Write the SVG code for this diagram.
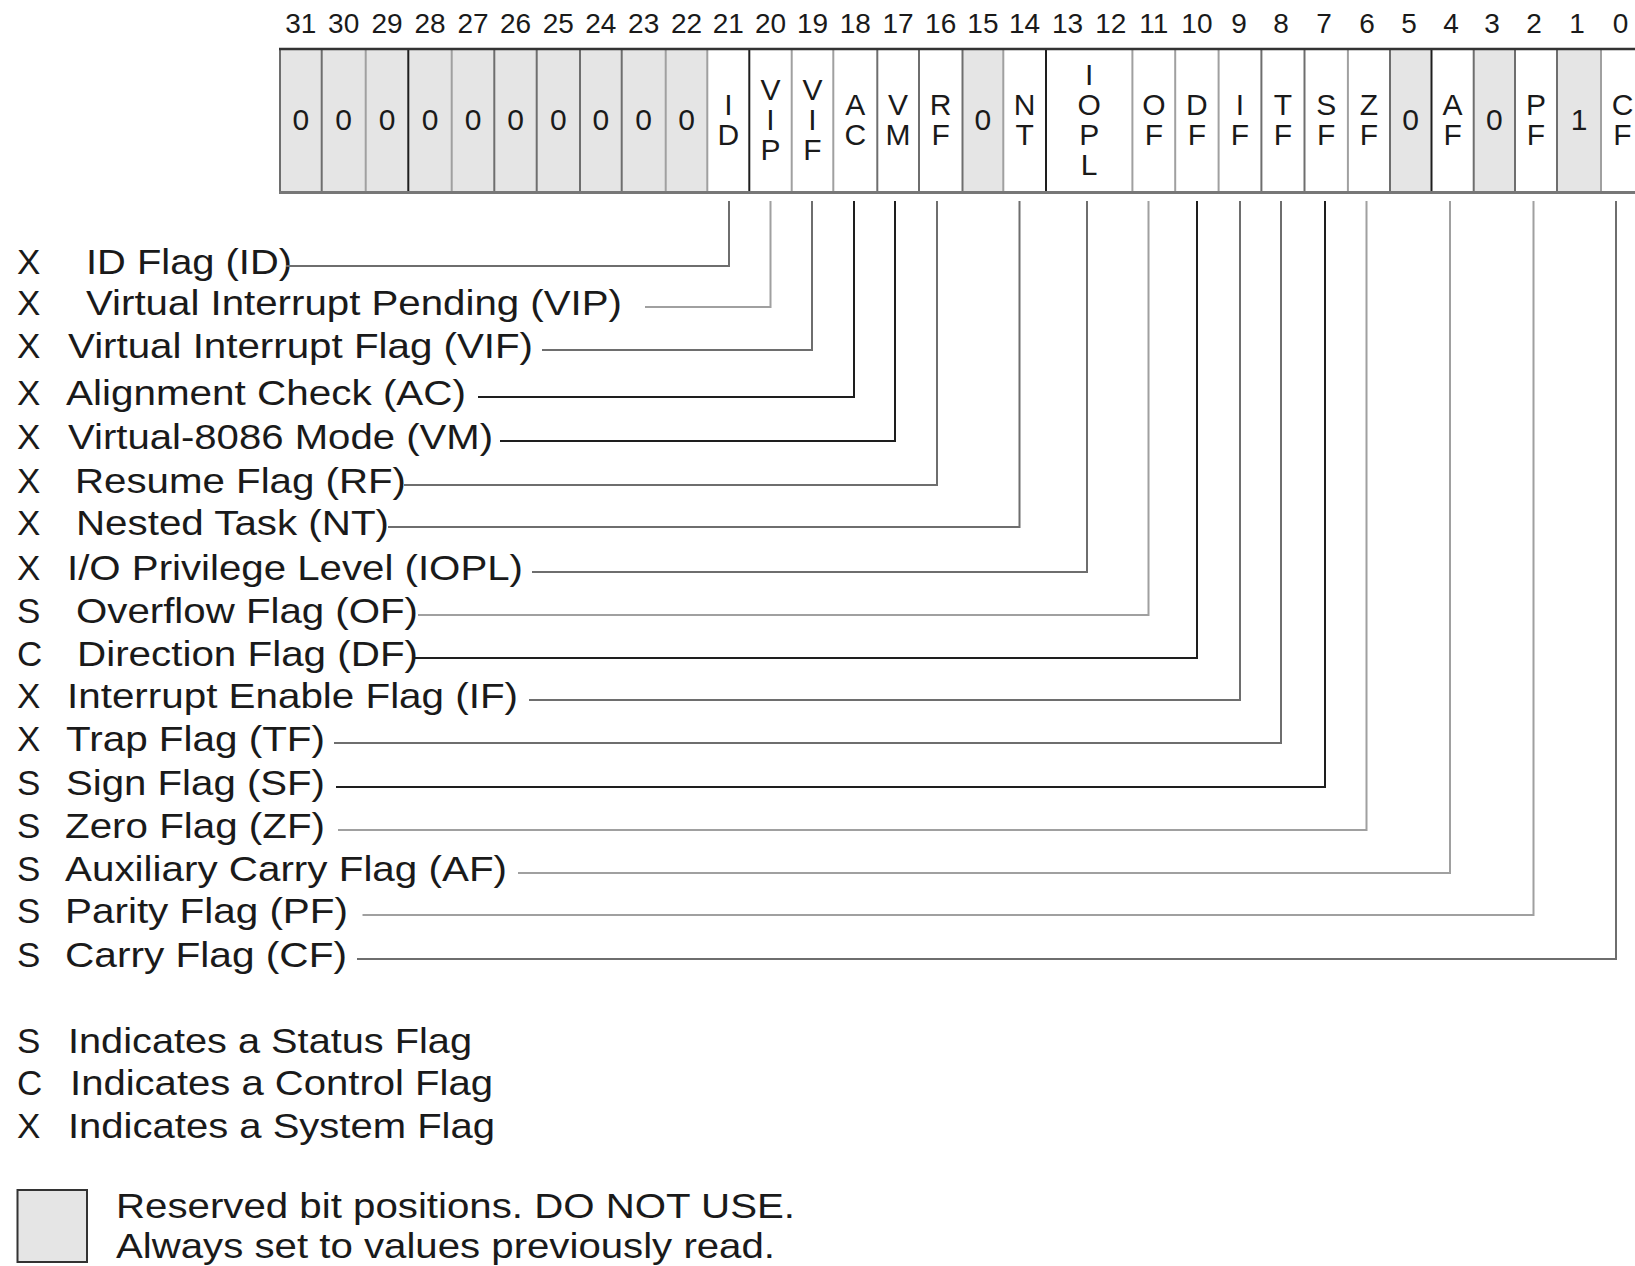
<svg xmlns="http://www.w3.org/2000/svg" width="1635" height="1266" viewBox="0 0 1635 1266">
<style>
text{font-family:"Liberation Sans",Arial,Helvetica,sans-serif;fill:#1a1a1a}
.num{font-size:28px;text-anchor:middle}
.cl{font-size:30px;text-anchor:middle}
.lb{font-size:35px}
.res{fill:#e5e5e5}
.wht{fill:#ffffff}
.dv{stroke-width:2;fill:none}
.c{fill:none;stroke-width:2}
.k{stroke:#1e1e1e}
.g{stroke:#6e6e6e}
.l{stroke:#a0a0a0}
</style>
<rect width="1635" height="1266" fill="#ffffff"/>
<g id="bit-numbers">
<text class="num" x="300.8" y="33">31</text>
<text class="num" x="343.7" y="33">30</text>
<text class="num" x="387" y="33">29</text>
<text class="num" x="430" y="33">28</text>
<text class="num" x="473" y="33">27</text>
<text class="num" x="515.5" y="33">26</text>
<text class="num" x="558.3" y="33">25</text>
<text class="num" x="600.8" y="33">24</text>
<text class="num" x="643.7" y="33">23</text>
<text class="num" x="686.5" y="33">22</text>
<text class="num" x="728.3" y="33">21</text>
<text class="num" x="770.5" y="33">20</text>
<text class="num" x="812.5" y="33">19</text>
<text class="num" x="855.3" y="33">18</text>
<text class="num" x="898.1" y="33">17</text>
<text class="num" x="940.7" y="33">16</text>
<text class="num" x="982.9" y="33">15</text>
<text class="num" x="1024.6" y="33">14</text>
<text class="num" x="1067.5" y="33">13</text>
<text class="num" x="1110.8" y="33">12</text>
<text class="num" x="1153.8" y="33">11</text>
<text class="num" x="1196.9" y="33">10</text>
<text class="num" x="1239" y="33">9</text>
<text class="num" x="1281" y="33">8</text>
<text class="num" x="1324" y="33">7</text>
<text class="num" x="1367" y="33">6</text>
<text class="num" x="1409" y="33">5</text>
<text class="num" x="1451" y="33">4</text>
<text class="num" x="1492" y="33">3</text>
<text class="num" x="1534" y="33">2</text>
<text class="num" x="1577" y="33">1</text>
<text class="num" x="1620.5" y="33">0</text>
</g>
<g id="register">
<g id="bit31"><rect class="res" x="280" y="49" width="41.7" height="144"/><text class="cl" x="300.8" y="129.5">0</text></g>
<g id="bit30"><rect class="res" x="321.7" y="49" width="44" height="144"/><text class="cl" x="343.7" y="129.5">0</text></g>
<g id="bit29"><rect class="res" x="365.7" y="49" width="42.6" height="144"/><text class="cl" x="387" y="129.5">0</text></g>
<g id="bit28"><rect class="res" x="408.3" y="49" width="43.4" height="144"/><text class="cl" x="430" y="129.5">0</text></g>
<g id="bit27"><rect class="res" x="451.7" y="49" width="42.6" height="144"/><text class="cl" x="473" y="129.5">0</text></g>
<g id="bit26"><rect class="res" x="494.3" y="49" width="42.4" height="144"/><text class="cl" x="515.5" y="129.5">0</text></g>
<g id="bit25"><rect class="res" x="536.7" y="49" width="43.3" height="144"/><text class="cl" x="558.3" y="129.5">0</text></g>
<g id="bit24"><rect class="res" x="580" y="49" width="41.7" height="144"/><text class="cl" x="600.8" y="129.5">0</text></g>
<g id="bit23"><rect class="res" x="621.7" y="49" width="44" height="144"/><text class="cl" x="643.7" y="129.5">0</text></g>
<g id="bit22"><rect class="res" x="665.7" y="49" width="41.6" height="144"/><text class="cl" x="686.5" y="129.5">0</text></g>
<g id="bit21-ID"><rect class="wht" x="707.3" y="49" width="42" height="144"/><text class="cl" x="728.3" y="114.5">I</text><text class="cl" x="728.3" y="144.5">D</text></g>
<g id="bit20-VIP"><rect class="wht" x="749.3" y="49" width="42.4" height="144"/><text class="cl" x="770.5" y="99.5">V</text><text class="cl" x="770.5" y="129.5">I</text><text class="cl" x="770.5" y="159.5">P</text></g>
<g id="bit19-VIF"><rect class="wht" x="791.7" y="49" width="41.6" height="144"/><text class="cl" x="812.5" y="99.5">V</text><text class="cl" x="812.5" y="129.5">I</text><text class="cl" x="812.5" y="159.5">F</text></g>
<g id="bit18-AC"><rect class="wht" x="833.3" y="49" width="44" height="144"/><text class="cl" x="855.3" y="114.5">A</text><text class="cl" x="855.3" y="144.5">C</text></g>
<g id="bit17-VM"><rect class="wht" x="877.3" y="49" width="41.7" height="144"/><text class="cl" x="898.1" y="114.5">V</text><text class="cl" x="898.1" y="144.5">M</text></g>
<g id="bit16-RF"><rect class="wht" x="919" y="49" width="43.5" height="144"/><text class="cl" x="940.7" y="114.5">R</text><text class="cl" x="940.7" y="144.5">F</text></g>
<g id="bit15"><rect class="res" x="962.5" y="49" width="40.8" height="144"/><text class="cl" x="982.9" y="129.5">0</text></g>
<g id="bit14-NT"><rect class="wht" x="1003.3" y="49" width="42.7" height="144"/><text class="cl" x="1024.6" y="114.5">N</text><text class="cl" x="1024.6" y="144.5">T</text></g>
<g id="bit13-12-IOPL"><rect class="wht" x="1046" y="49" width="86.4" height="144"/><text class="cl" x="1089.2" y="84.5">I</text><text class="cl" x="1089.2" y="114.5">O</text><text class="cl" x="1089.2" y="144.5">P</text><text class="cl" x="1089.2" y="174.5">L</text></g>
<g id="bit11-OF"><rect class="wht" x="1132.4" y="49" width="42.8" height="144"/><text class="cl" x="1153.8" y="114.5">O</text><text class="cl" x="1153.8" y="144.5">F</text></g>
<g id="bit10-DF"><rect class="wht" x="1175.2" y="49" width="43.4" height="144"/><text class="cl" x="1196.9" y="114.5">D</text><text class="cl" x="1196.9" y="144.5">F</text></g>
<g id="bit9-IF"><rect class="wht" x="1218.6" y="49" width="42.8" height="144"/><text class="cl" x="1240" y="114.5">I</text><text class="cl" x="1240" y="144.5">F</text></g>
<g id="bit8-TF"><rect class="wht" x="1261.4" y="49" width="43.1" height="144"/><text class="cl" x="1283" y="114.5">T</text><text class="cl" x="1283" y="144.5">F</text></g>
<g id="bit7-SF"><rect class="wht" x="1304.5" y="49" width="43.4" height="144"/><text class="cl" x="1326.2" y="114.5">S</text><text class="cl" x="1326.2" y="144.5">F</text></g>
<g id="bit6-ZF"><rect class="wht" x="1347.9" y="49" width="42.1" height="144"/><text class="cl" x="1369" y="114.5">Z</text><text class="cl" x="1369" y="144.5">F</text></g>
<g id="bit5"><rect class="res" x="1390" y="49" width="41.5" height="144"/><text class="cl" x="1410.7" y="129.5">0</text></g>
<g id="bit4-AF"><rect class="wht" x="1431.5" y="49" width="42.2" height="144"/><text class="cl" x="1452.6" y="114.5">A</text><text class="cl" x="1452.6" y="144.5">F</text></g>
<g id="bit3"><rect class="res" x="1473.7" y="49" width="41.3" height="144"/><text class="cl" x="1494.3" y="129.5">0</text></g>
<g id="bit2-PF"><rect class="wht" x="1515" y="49" width="42" height="144"/><text class="cl" x="1536" y="114.5">P</text><text class="cl" x="1536" y="144.5">F</text></g>
<g id="bit1"><rect class="res" x="1557" y="49" width="44" height="144"/><text class="cl" x="1579" y="129.5">1</text></g>
<g id="bit0-CF"><rect class="wht" x="1601" y="49" width="43" height="144"/><text class="cl" x="1622.5" y="114.5">C</text><text class="cl" x="1622.5" y="144.5">F</text></g>
<g id="register-lines">
<line class="dv g" x1="321.7" y1="49" x2="321.7" y2="193"/>
<line class="dv l" x1="365.7" y1="49" x2="365.7" y2="193"/>
<line class="dv k" x1="408.3" y1="49" x2="408.3" y2="193"/>
<line class="dv l" x1="451.7" y1="49" x2="451.7" y2="193"/>
<line class="dv g" x1="494.3" y1="49" x2="494.3" y2="193"/>
<line class="dv g" x1="536.7" y1="49" x2="536.7" y2="193"/>
<line class="dv g" x1="580" y1="49" x2="580" y2="193"/>
<line class="dv g" x1="621.7" y1="49" x2="621.7" y2="193"/>
<line class="dv l" x1="665.7" y1="49" x2="665.7" y2="193"/>
<line class="dv l" x1="707.3" y1="49" x2="707.3" y2="193"/>
<line class="dv k" x1="749.3" y1="49" x2="749.3" y2="193"/>
<line class="dv l" x1="791.7" y1="49" x2="791.7" y2="193"/>
<line class="dv l" x1="833.3" y1="49" x2="833.3" y2="193"/>
<line class="dv g" x1="877.3" y1="49" x2="877.3" y2="193"/>
<line class="dv g" x1="919" y1="49" x2="919" y2="193"/>
<line class="dv g" x1="962.5" y1="49" x2="962.5" y2="193"/>
<line class="dv l" x1="1003.3" y1="49" x2="1003.3" y2="193"/>
<line class="dv k" x1="1046" y1="49" x2="1046" y2="193"/>
<line class="dv l" x1="1132.4" y1="49" x2="1132.4" y2="193"/>
<line class="dv l" x1="1175.2" y1="49" x2="1175.2" y2="193"/>
<line class="dv l" x1="1218.6" y1="49" x2="1218.6" y2="193"/>
<line class="dv g" x1="1261.4" y1="49" x2="1261.4" y2="193"/>
<line class="dv g" x1="1304.5" y1="49" x2="1304.5" y2="193"/>
<line class="dv l" x1="1347.9" y1="49" x2="1347.9" y2="193"/>
<line class="dv g" x1="1390" y1="49" x2="1390" y2="193"/>
<line class="dv k" x1="1431.5" y1="49" x2="1431.5" y2="193"/>
<line class="dv g" x1="1473.7" y1="49" x2="1473.7" y2="193"/>
<line class="dv g" x1="1515" y1="49" x2="1515" y2="193"/>
<line class="dv g" x1="1557" y1="49" x2="1557" y2="193"/>
<line class="dv l" x1="1601" y1="49" x2="1601" y2="193"/>
<line class="dv g" x1="280" y1="49" x2="280" y2="193"/>
<line x1="279" y1="49" x2="1635" y2="49" stroke="#333333" stroke-width="2.5"/>
<line x1="279" y1="192.5" x2="1635" y2="192.5" stroke="#777777" stroke-width="3"/>
</g>
</g>
<g id="labels">
<g id="lbl-ID"><text class="lb" x="17" y="274">X</text><text class="lb" x="86" y="274" textLength="206" lengthAdjust="spacingAndGlyphs">ID Flag (ID)</text></g>
<g id="lbl-VIP"><text class="lb" x="17" y="315">X</text><text class="lb" x="86" y="315" textLength="536" lengthAdjust="spacingAndGlyphs">Virtual Interrupt Pending (VIP)</text></g>
<g id="lbl-VIF"><text class="lb" x="17" y="358">X</text><text class="lb" x="68" y="358" textLength="465" lengthAdjust="spacingAndGlyphs">Virtual Interrupt Flag (VIF)</text></g>
<g id="lbl-AC"><text class="lb" x="17" y="405">X</text><text class="lb" x="66" y="405" textLength="400" lengthAdjust="spacingAndGlyphs">Alignment Check (AC)</text></g>
<g id="lbl-VM"><text class="lb" x="17" y="449">X</text><text class="lb" x="68" y="449" textLength="425" lengthAdjust="spacingAndGlyphs">Virtual-8086 Mode (VM)</text></g>
<g id="lbl-RF"><text class="lb" x="17" y="493">X</text><text class="lb" x="75" y="493" textLength="331" lengthAdjust="spacingAndGlyphs">Resume Flag (RF)</text></g>
<g id="lbl-NT"><text class="lb" x="17" y="535">X</text><text class="lb" x="76" y="535" textLength="313" lengthAdjust="spacingAndGlyphs">Nested Task (NT)</text></g>
<g id="lbl-IOPL"><text class="lb" x="17" y="580">X</text><text class="lb" x="67" y="580" textLength="456" lengthAdjust="spacingAndGlyphs">I/O Privilege Level (IOPL)</text></g>
<g id="lbl-OF"><text class="lb" x="17" y="623">S</text><text class="lb" x="76" y="623" textLength="342" lengthAdjust="spacingAndGlyphs">Overflow Flag (OF)</text></g>
<g id="lbl-DF"><text class="lb" x="17" y="666">C</text><text class="lb" x="77" y="666" textLength="341" lengthAdjust="spacingAndGlyphs">Direction Flag (DF)</text></g>
<g id="lbl-IF"><text class="lb" x="17" y="708">X</text><text class="lb" x="67" y="708" textLength="451" lengthAdjust="spacingAndGlyphs">Interrupt Enable Flag (IF)</text></g>
<g id="lbl-TF"><text class="lb" x="17" y="751">X</text><text class="lb" x="66" y="751" textLength="259" lengthAdjust="spacingAndGlyphs">Trap Flag (TF)</text></g>
<g id="lbl-SF"><text class="lb" x="17" y="795">S</text><text class="lb" x="66" y="795" textLength="259" lengthAdjust="spacingAndGlyphs">Sign Flag (SF)</text></g>
<g id="lbl-ZF"><text class="lb" x="17" y="838">S</text><text class="lb" x="65" y="838" textLength="260" lengthAdjust="spacingAndGlyphs">Zero Flag (ZF)</text></g>
<g id="lbl-AF"><text class="lb" x="17" y="881">S</text><text class="lb" x="65" y="881" textLength="442" lengthAdjust="spacingAndGlyphs">Auxiliary Carry Flag (AF)</text></g>
<g id="lbl-PF"><text class="lb" x="17" y="923">S</text><text class="lb" x="65" y="923" textLength="283" lengthAdjust="spacingAndGlyphs">Parity Flag (PF)</text></g>
<g id="lbl-CF"><text class="lb" x="17" y="967">S</text><text class="lb" x="65" y="967" textLength="282" lengthAdjust="spacingAndGlyphs">Carry Flag (CF)</text></g>
</g>
<g id="connectors">
<path class="c g" d="M286,266 H729 V201"/>
<path class="c l" d="M645,307 H770.5 V201"/>
<path class="c g" d="M542,350 H812 V201"/>
<path class="c k" d="M478,397 H854 V201"/>
<path class="c k" d="M500,441 H895 V201"/>
<path class="c g" d="M404,485 H937 V201"/>
<path class="c g" d="M388,527 H1019.5 V201"/>
<path class="c g" d="M532,572 H1087 V201"/>
<path class="c l" d="M418,615 H1148.5 V201"/>
<path class="c k" d="M414,658 H1197 V201"/>
<path class="c g" d="M529,700 H1240 V201"/>
<path class="c g" d="M334,743 H1281 V201"/>
<path class="c k" d="M336,787 H1325 V201"/>
<path class="c l" d="M338,830 H1366.5 V201"/>
<path class="c l" d="M518,873 H1450 V201"/>
<path class="c l" d="M362.5,915 H1533.5 V201"/>
<path class="c g" d="M357,959 H1616 V201"/>
</g>
<g id="legend">
<g id="leg-S"><text class="lb" x="17" y="1053">S</text><text class="lb" x="68" y="1053" textLength="404" lengthAdjust="spacingAndGlyphs">Indicates a Status Flag</text></g>
<g id="leg-C"><text class="lb" x="17" y="1095">C</text><text class="lb" x="70" y="1095" textLength="423" lengthAdjust="spacingAndGlyphs">Indicates a Control Flag</text></g>
<g id="leg-X"><text class="lb" x="17" y="1138">X</text><text class="lb" x="68" y="1138" textLength="427" lengthAdjust="spacingAndGlyphs">Indicates a System Flag</text></g>
<g id="leg-reserved"><rect x="17.5" y="1190" width="69.5" height="72" fill="#e5e5e5" stroke="#333333" stroke-width="2"/>
<text class="lb" x="116" y="1218" textLength="679" lengthAdjust="spacingAndGlyphs">Reserved bit positions. DO NOT USE.</text>
<text class="lb" x="116" y="1258" textLength="659" lengthAdjust="spacingAndGlyphs">Always set to values previously read.</text></g>
</g>
</svg>
